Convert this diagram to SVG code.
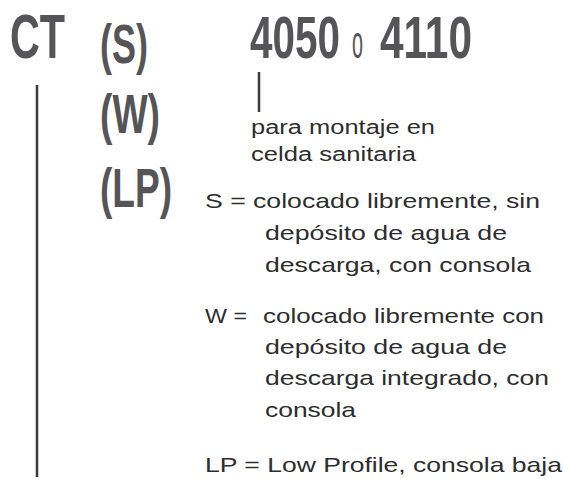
<svg xmlns="http://www.w3.org/2000/svg" width="565" height="479" viewBox="0 0 565 479">
<style>
.big{font-family:"Liberation Sans",Arial,sans-serif;font-weight:bold;fill:#555557}
.reg{font-family:"Liberation Sans",Arial,sans-serif;font-size:21px;fill:#2d2d2d}
.small{font-family:"Liberation Sans",Arial,sans-serif;font-size:20px;fill:#2d2d2d}
.ln{stroke:#3a3a3a;stroke-width:2.5;fill:none}
</style>
<rect width="565" height="479" fill="#ffffff"/>
<g id="connectors">
<line class="ln" x1="37" y1="85" x2="37" y2="477"/>
<line class="ln" x1="259" y1="72" x2="259" y2="112"/>
</g>
<g id="node-ct">
<text class="big" x="10" y="58" font-size="63" textLength="55" lengthAdjust="spacingAndGlyphs">CT</text>
</g>
<g id="node-variants">
<text class="big" x="100" y="63" font-size="56" textLength="48" lengthAdjust="spacingAndGlyphs">(S)</text>
<text class="big" x="100" y="133" font-size="56" textLength="60" lengthAdjust="spacingAndGlyphs">(W)</text>
<text class="big" x="100" y="207" font-size="56" textLength="72" lengthAdjust="spacingAndGlyphs">(LP)</text>
</g>
<g id="node-model">
<text class="big" x="250" y="58" font-size="60" textLength="90" lengthAdjust="spacingAndGlyphs">4050</text>
<text class="big" x="352" y="58" font-size="46" font-weight="normal" textLength="11" lengthAdjust="spacingAndGlyphs" style="font-weight:normal">o</text>
<text class="big" x="380" y="58" font-size="60" textLength="92" lengthAdjust="spacingAndGlyphs">4110</text>
</g>
<g id="node-montaje">
<text class="small" x="251" y="134" textLength="184" lengthAdjust="spacingAndGlyphs">para montaje en</text>
<text class="small" x="251" y="161" textLength="165" lengthAdjust="spacingAndGlyphs">celda sanitaria</text>
</g>
<g id="node-s">
<text class="reg" x="205" y="208" textLength="335" lengthAdjust="spacingAndGlyphs">S = colocado libremente, sin</text>
<text class="reg" x="265" y="240" textLength="242" lengthAdjust="spacingAndGlyphs">depósito de agua de</text>
<text class="reg" x="265" y="272" textLength="266" lengthAdjust="spacingAndGlyphs">descarga, con consola</text>
</g>
<g id="node-w">
<text class="reg" x="205" y="323" textLength="42" lengthAdjust="spacingAndGlyphs">W =</text>
<text class="reg" x="263" y="323" textLength="281" lengthAdjust="spacingAndGlyphs">colocado libremente con</text>
<text class="reg" x="265" y="354" textLength="242" lengthAdjust="spacingAndGlyphs">depósito de agua de</text>
<text class="reg" x="265" y="385" textLength="284" lengthAdjust="spacingAndGlyphs">descarga integrado, con</text>
<text class="reg" x="265" y="417" textLength="91" lengthAdjust="spacingAndGlyphs">consola</text>
</g>
<g id="node-lp">
<text class="reg" x="205" y="472" textLength="357" lengthAdjust="spacingAndGlyphs">LP = Low Profile, consola baja</text>
</g>
</svg>
